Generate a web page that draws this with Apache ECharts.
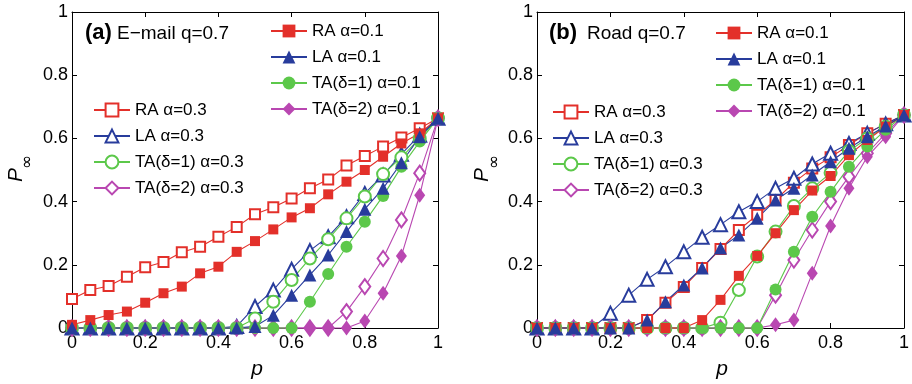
<!DOCTYPE html>
<html>
<head>
<meta charset="utf-8">
<script src="https://cdn.jsdelivr.net/npm/echarts@6/dist/echarts.min.js"></script>
<style>
html,body{margin:0;padding:0;background:#fff;}
#c{width:912px;height:384px;}
</style>
</head>
<body>
<div id="c"></div>
<script>
// x values (p)
const P = [0,0.05,0.1,0.15,0.2,0.25,0.3,0.35,0.4,0.45,0.5,0.55,0.6,0.65,0.7,0.75,0.8,0.85,0.9,0.95,1];
const xTicks = [0,0.2,0.4,0.6,0.8,1];
const yTicks = [0,0.2,0.4,0.6,0.8,1];

// Panel (a) E-mail q=0.7
const a_RA03 = [0.092,0.12,0.133,0.162,0.192,0.209,0.24,0.257,0.289,0.32,0.36,0.382,0.41,0.442,0.47,0.514,0.544,0.574,0.603,0.632,0.664];
const a_RA01 = [0.01,0.025,0.041,0.052,0.08,0.11,0.131,0.173,0.194,0.241,0.275,0.312,0.35,0.379,0.423,0.463,0.5,0.542,0.584,0.616,0.664];
const a_LA03 = [0,0,0,0,0,0,0,0,0,0.005,0.068,0.12,0.186,0.245,0.289,0.352,0.426,0.484,0.55,0.61,0.664];
const a_LA01 = [0,0,0,0,0,0,0,0,0,0,0.005,0.04,0.104,0.168,0.231,0.305,0.376,0.442,0.523,0.605,0.664];
const a_TA1_03 = [0,0,0,0,0,0,0,0,0,0,0.03,0.083,0.152,0.22,0.281,0.347,0.416,0.487,0.54,0.6,0.664];
const a_TA1_01 = [0,0,0,0,0,0,0,0,0,0,0,0,0,0.083,0.171,0.257,0.336,0.418,0.51,0.59,0.664];
const a_TA2_03 = [0,0,0,0,0,0,0,0,0,0,0,0,0,0,0,0.052,0.131,0.22,0.342,0.49,0.664];
const a_TA2_01 = [0,0,0,0,0,0,0,0,0,0,0,0,0,0,0,0,0.022,0.11,0.228,0.42,0.664];

// Panel (b) Road q=0.7
const b_RA03 = [0,0,0,0,0,0,0.025,0.08,0.13,0.19,0.25,0.31,0.358,0.405,0.46,0.505,0.54,0.579,0.616,0.646,0.674];
const b_RA01 = [0,0,0,0,0,0,0,0,0,0.025,0.089,0.165,0.228,0.3,0.373,0.435,0.481,0.547,0.595,0.637,0.674];
const b_LA03 = [0,0,0,0,0.047,0.104,0.154,0.194,0.241,0.287,0.327,0.368,0.4,0.442,0.474,0.519,0.553,0.584,0.616,0.646,0.674];
const b_LA01 = [0,0,0,0,0,0,0.025,0.083,0.136,0.19,0.253,0.294,0.347,0.405,0.442,0.484,0.526,0.569,0.605,0.639,0.674];
const b_TA1_03 = [0,0,0,0,0,0,0,0,0,0,0.017,0.12,0.226,0.305,0.386,0.442,0.491,0.56,0.6,0.637,0.674];
const b_TA1_01 = [0,0,0,0,0,0,0,0,0,0,0,0,0,0.122,0.241,0.352,0.431,0.51,0.574,0.627,0.674];
const b_TA2_03 = [0,0,0,0,0,0,0,0,0,0,0,0,0,0.104,0.215,0.31,0.4,0.479,0.553,0.616,0.674];
const b_TA2_01 = [0,0,0,0,0,0,0,0,0,0,0,0,0,0.01,0.025,0.173,0.323,0.442,0.542,0.605,0.674];

const names03 = ['RA α=0.3','LA α=0.3','TA(δ=1) α=0.3','TA(δ=2) α=0.3'];
const names01 = ['RA α=0.1','LA α=0.1','TA(δ=1) α=0.1','TA(δ=2) α=0.1'];

const RED='#e3302a', BLUE='#283c9c', GREEN='#5cc84a', MAG='#b947b1';
const FONT = 'Liberation Sans, Arial, Helvetica, sans-serif';

const styles = {
  'RA α=0.3': {color:RED, symbol:'emptyRect', size:10, empty:true},
  'LA α=0.3': {color:BLUE, symbol:'emptyTriangle', size:13, empty:true},
  'TA(δ=1) α=0.3': {color:GREEN, symbol:'emptyCircle', size:12, empty:true},
  'TA(δ=2) α=0.3': {color:MAG, symbol:'emptyDiamond', size:[11,15], empty:true},
  'RA α=0.1': {color:RED, symbol:'rect', size:10, empty:false},
  'LA α=0.1': {color:BLUE, symbol:'triangle', size:13, empty:false},
  'TA(δ=1) α=0.1': {color:GREEN, symbol:'circle', size:12, empty:false},
  'TA(δ=2) α=0.1': {color:MAG, symbol:'diamond', size:[11,15], empty:false}
};

function mk(name, arr, gi) {
  const s = styles[name];
  return {
    name: name, type:'line', xAxisIndex: gi*2, yAxisIndex: gi*2,
    data: P.map((p,i)=>[p, arr[i]]),
    symbol: s.symbol, symbolSize: s.size, showAllSymbol:true, clip:false,
    lineStyle:{color:s.color, width:1.1},
    itemStyle:{color:s.color, borderColor:s.color, borderWidth: s.empty?1.2:0},
    emphasis:{disabled:true}, animation:false
  };
}

const series = [];
[[a_RA03,a_LA03,a_TA1_03,a_TA2_03,a_TA2_01,a_TA1_01,a_RA01,a_LA01],
 [b_RA03,b_LA03,b_TA1_03,b_TA2_03,b_TA2_01,b_TA1_01,b_RA01,b_LA01]].forEach((set,gi)=>{
  const order = ['RA α=0.3','LA α=0.3','TA(δ=1) α=0.3','TA(δ=2) α=0.3','TA(δ=2) α=0.1','TA(δ=1) α=0.1','RA α=0.1','LA α=0.1'];
  order.forEach((n,k)=>series.push(mk(n,set[k],gi)));
});

const grids = [
  {left:72, top:12, width:366, height:316, show:false},
  {left:537, top:12, width:368, height:316, show:false}
];

const axisLine = {show:true, onZero:false, lineStyle:{color:'#000', width:1}};
const lblStyle = {fontSize:18, color:'#000', fontFamily:FONT};
const xAxes=[], yAxes=[];
[0,1].forEach(gi=>{
  xAxes.push({type:'value', gridIndex:gi, position:'bottom', min:xTicks[0], max:xTicks[xTicks.length-1], interval:xTicks[1]-xTicks[0],
    axisLine, axisTick:{inside:true, length:5, lineStyle:{color:'#000'}}, splitLine:{show:false},
    axisLabel:Object.assign({margin:6}, lblStyle)});
  xAxes.push({type:'value', gridIndex:gi, position:'top', min:xTicks[0], max:xTicks[xTicks.length-1], interval:xTicks[1]-xTicks[0],
    axisLine, axisTick:{inside:true, length:5, lineStyle:{color:'#000'}}, splitLine:{show:false}, axisLabel:{show:false}});
  yAxes.push({type:'value', gridIndex:gi, position:'left', min:yTicks[0], max:yTicks[yTicks.length-1], interval:yTicks[1]-yTicks[0],
    axisLine, axisTick:{inside:true, length:5, lineStyle:{color:'#000'}}, splitLine:{show:false},
    axisLabel:Object.assign({margin:4}, lblStyle)});
  yAxes.push({type:'value', gridIndex:gi, position:'right', min:yTicks[0], max:yTicks[yTicks.length-1], interval:yTicks[1]-yTicks[0],
    axisLine, axisTick:{inside:true, length:5, lineStyle:{color:'#000'}}, splitLine:{show:false}, axisLabel:{show:false}});
});

function legend(data, left, top) {
  return {data, left, top, orient:'vertical', itemWidth:36, itemHeight:16, itemGap:8,
    selectedMode:false, textStyle:{fontSize:17, color:'#000', fontFamily:FONT, lineHeight:18}};
}

const txt = (x,y,t,opt)=>({type:'text', x, y, style:Object.assign({text:t, fill:'#000', fontFamily:FONT, align:'left', verticalAlign:'middle'}, opt||{})});

const option = {
  animation:false,
  backgroundColor:'#fff',
  grid: grids,
  xAxis: xAxes,
  yAxis: yAxes,
  legend: [
    legend(names01, 265, 17),
    legend(names03, 88, 96),
    legend(names01, 710, 19),
    legend(names03, 547, 98)
  ],
  series,
  graphic: [
    txt(85, 33, '(a)', {fontSize:22, fontWeight:'bold'}),
    txt(117, 34, 'E−mail q=0.7', {fontSize:19}),
    txt(549, 33, '(b)', {fontSize:22, fontWeight:'bold'}),
    txt(587, 34, 'Road q=0.7', {fontSize:19}),
    {type:'text', x:16, y:175, rotation:Math.PI/2, style:{text:'P', fontSize:21, fontStyle:'italic', fill:'#000', fontFamily:FONT, align:'center', verticalAlign:'middle'}},
    {type:'text', x:28, y:162, rotation:Math.PI/2, style:{text:'∞', fontSize:17, fill:'#000', fontFamily:'DejaVu Sans, sans-serif', align:'center', verticalAlign:'middle'}},
    {type:'text', x:482, y:175, rotation:Math.PI/2, style:{text:'P', fontSize:21, fontStyle:'italic', fill:'#000', fontFamily:FONT, align:'center', verticalAlign:'middle'}},
    {type:'text', x:495, y:162, rotation:Math.PI/2, style:{text:'∞', fontSize:17, fill:'#000', fontFamily:'DejaVu Sans, sans-serif', align:'center', verticalAlign:'middle'}},
    txt(257, 369, 'p', {fontSize:21, fontStyle:'italic', align:'center'}),
    txt(722, 369, 'p', {fontSize:21, fontStyle:'italic', align:'center'})
  ]
};

const chart = echarts.init(document.getElementById('c'), null, {renderer:'canvas'});
chart.setOption(option);
</script>
</body>
</html>
